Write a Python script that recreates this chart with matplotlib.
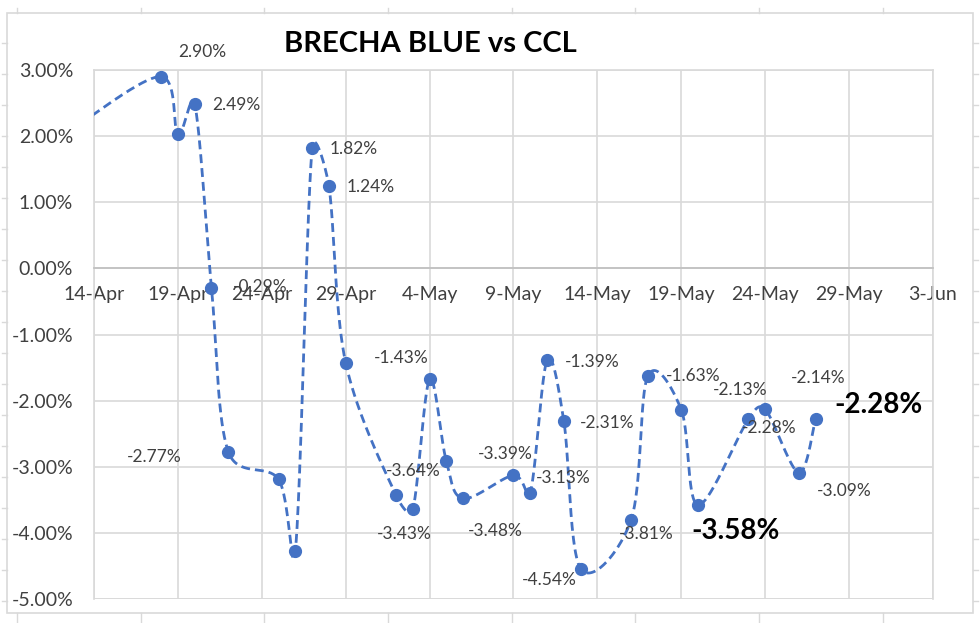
import numpy as np
import matplotlib
matplotlib.use("Agg")
import matplotlib.pyplot as plt
import matplotlib.dates as mdates
from matplotlib.lines import Line2D
from matplotlib.patches import Rectangle
import datetime as dt

# ---------------- data ----------------
dates = ["2022-04-13", "2022-04-18", "2022-04-19", "2022-04-20", "2022-04-21",
         "2022-04-22", "2022-04-25", "2022-04-26", "2022-04-27", "2022-04-28",
         "2022-04-29", "2022-05-02", "2022-05-03", "2022-05-04", "2022-05-05",
         "2022-05-06", "2022-05-09", "2022-05-10", "2022-05-11", "2022-05-12",
         "2022-05-13", "2022-05-16", "2022-05-17", "2022-05-19", "2022-05-20",
         "2022-05-23", "2022-05-24", "2022-05-26", "2022-05-27"]
values = [2.16, 2.90, 2.03, 2.49, -0.29,
          -2.77, -3.19, -4.27, 1.82, 1.24,
          -1.43, -3.43, -3.64, -1.68, -2.92,
          -3.48, -3.13, -3.39, -1.39, -2.31,
          -4.54, -3.81, -1.63, -2.14, -3.58,
          -2.28, -2.13, -3.09, -2.28]
x_tick_dates = ["2022-04-14", "2022-04-19", "2022-04-24", "2022-04-29", "2022-05-04",
                "2022-05-09", "2022-05-14", "2022-05-19", "2022-05-24", "2022-05-29",
                "2022-06-03"]
x_tick_labels = ["14-Apr", "19-Apr", "24-Apr", "29-Apr", "4-May", "9-May",
                 "14-May", "19-May", "24-May", "29-May", "3-Jun"]
y_ticks = [3, 2, 1, 0, -1, -2, -3, -4, -5]
y_tick_labels = ["3.00%", "2.00%", "1.00%", "0.00%", "-1.00%", "-2.00%",
                 "-3.00%", "-4.00%", "-5.00%"]
title = "BRECHA BLUE vs CCL"

# label placement (style): (ha, dx_px, dy_px(down), big)
label_style = [None, ("left", 17, -25, False), None, ("left", 18, 1, False),
               ("left", 21, -1, False), ("right", -47, 5, False), None, None,
               ("left", 17, 1, False), ("left", 18, 1, False),
               ("left", 28, -5, False), ("center", 8, 39, False),
               ("center", 0, -38, False), None, None,
               ("center", 32, 33, False), ("left", 22, 3, False),
               ("center", -25, -39, False), ("left", 18, 2, False),
               ("left", 16, 2, False), ("right", -4, 11, False),
               ("center", 15, 14, False), ("left", 18, 0, False),
               ("left", 110, -32, False), ("left", -7, 26, True),
               ("center", 21, 9, False), ("center", -25, -19, False),
               ("left", 18, 18, False), ("left", 19, -14, True)]

# ---------------- style ----------------
FONT = ["Lato", "DejaVu Sans"]
plt.rcParams["font.family"] = FONT
BLUE = "#4472C4"
GRID = "#d9d9d9"
TXT = "#404040"

W, H = 980, 623
fig = plt.figure(figsize=(W / 100, H / 100), dpi=100)
fig.patch.set_facecolor("white")

L, R, T, B = 94, 933, 70, 599
ax = fig.add_axes([L / W, 1 - B / H, (R - L) / W, (B - T) / H])

xd = [mdates.date2num(dt.date.fromisoformat(d)) for d in dates]
xt = [mdates.date2num(dt.date.fromisoformat(d)) for d in x_tick_dates]
ax.set_xlim(xt[0], xt[-1])
ax.set_ylim(-5, 3)

ax.set_xticks(xt)
ax.set_xticklabels(x_tick_labels)
ax.set_yticks(y_ticks)
ax.set_yticklabels(y_tick_labels)
ax.tick_params(axis="both", length=0, labelsize=14, labelcolor=TXT)
ax.tick_params(axis="x", pad=13)
ax.tick_params(axis="y", pad=15)
ax.grid(True, color=GRID, lw=1.2)
ax.set_axisbelow(True)
for s in ["top", "right", "left", "bottom"]:
    ax.spines[s].set_color(GRID)
    ax.spines[s].set_linewidth(1.2)
ax.spines["bottom"].set_position(("data", 0))
ax.spines["bottom"].set_color("#bfbfbf")
ax.axhline(-5, color=GRID, lw=1.2, zorder=0.5)

# smooth (Excel-like Bezier) curve computed in display space
pts = ax.transData.transform(np.column_stack([xd, values]))
n = len(pts)
curve = []
for i in range(n - 1):
    p0 = pts[i - 1] if i > 0 else pts[i]
    p1 = pts[i]
    p2 = pts[i + 1]
    p3 = pts[i + 2] if i + 2 < n else pts[i + 1]
    d02 = np.hypot(*(p2 - p0))
    d12 = np.hypot(*(p2 - p1))
    d13 = np.hypot(*(p3 - p1))
    f0 = 1 / 6 if d02 / 6 < d12 / 2 else d12 / (2 * d02)
    f1 = 1 / 6 if d13 / 6 < d12 / 2 else d12 / (2 * d13)
    c1 = p1 + f0 * (p2 - p0)
    c2 = p2 - f1 * (p3 - p1)
    t = np.linspace(0, 1, 40)[:, None]
    seg = ((1 - t) ** 3) * p1 + 3 * ((1 - t) ** 2) * t * c1 + 3 * (1 - t) * t ** 2 * c2 + t ** 3 * p2
    curve.append(seg if i == 0 else seg[1:])
curve = np.vstack(curve)
curve_data = ax.transData.inverted().transform(curve)
ax.plot(curve_data[:, 0], curve_data[:, 1], color=BLUE, lw=2.0,
        dashes=(3.2, 1.8), zorder=3)
ax.plot(xd, values, ls="none", marker="o", ms=8.5, color=BLUE, zorder=4)

for x, v, st in zip(xd, values, label_style):
    if st is None:
        continue
    ha, dx, dy, big = st
    ax.annotate(f"{v:.2f}%", (x, v), xytext=(dx * 0.72, -dy * 0.72),
                textcoords="offset points", ha=ha, va="center",
                fontsize=20 if big else 12.5,
                fontweight="bold" if big else "normal",
                color="black" if big else TXT, zorder=5,
                annotation_clip=False)

fig.text(430 / W, 1 - 44 / H, title, ha="center", va="center",
         fontsize=21, fontweight="bold", color="black")

# chart area border and spreadsheet cell edges
fig.add_artist(Rectangle((7 / W, 1 - 613 / H), (973 - 7) / W, (613 - 13) / H,
                         transform=fig.transFigure, fill=False,
                         edgecolor=GRID, lw=1.2))
for xx in [17, 141, 264, 388, 512, 635, 759, 883]:
    fig.add_artist(Line2D([xx / W, xx / W], [1 - 8 / H, 1 - 13 / H],
                          transform=fig.transFigure, color=GRID, lw=1))
    fig.add_artist(Line2D([xx / W, xx / W], [0, 1 - 613 / H],
                          transform=fig.transFigure, color=GRID, lw=1))
for yy in np.arange(43, 610, 31):
    fig.add_artist(Line2D([2 / W, 7 / W], [1 - yy / H, 1 - yy / H],
                          transform=fig.transFigure, color=GRID, lw=1))
    fig.add_artist(Line2D([973 / W, 978 / W], [1 - yy / H, 1 - yy / H],
                          transform=fig.transFigure, color=GRID, lw=1))

fig.savefig("out.png", dpi=100)
